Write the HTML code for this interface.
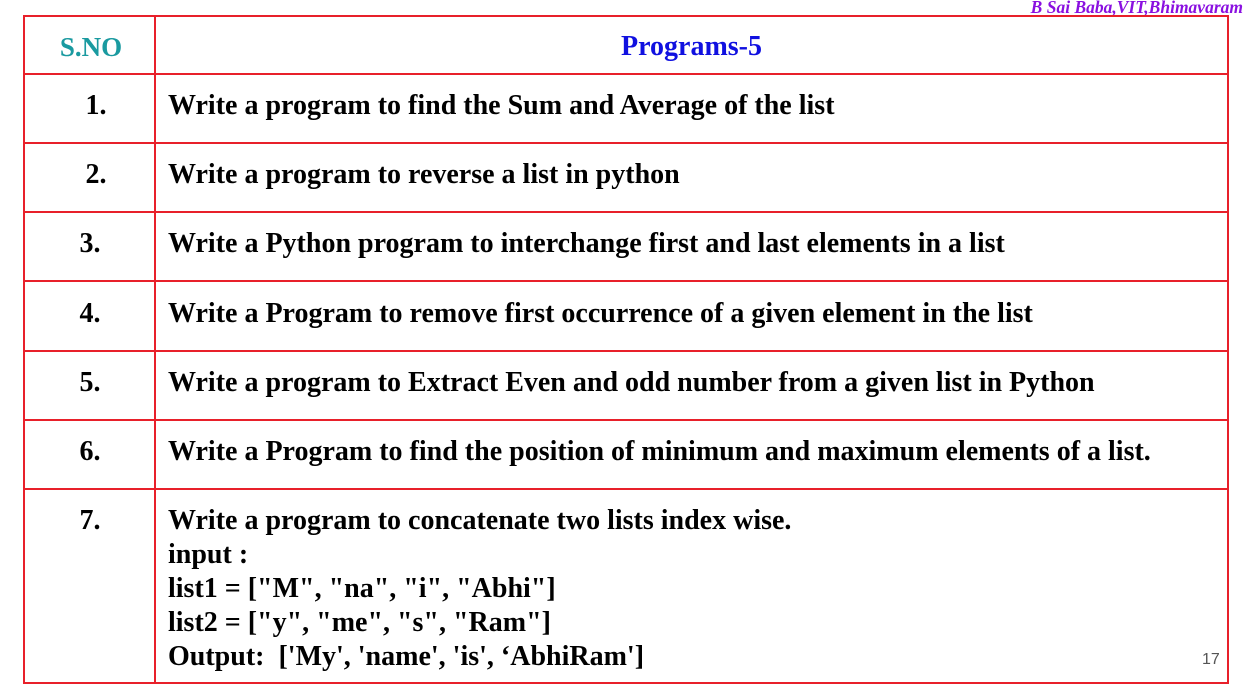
<!DOCTYPE html>
<html><head><meta charset="utf-8"><style>
body{margin:0;width:1249px;height:700px;background:#fff;position:relative;overflow:hidden;font-family:"Liberation Serif",serif;font-weight:bold}
.l{position:absolute;background:#e8202a}
.t{position:absolute;font-size:28px;color:#000;white-space:nowrap;line-height:34px;margin-top:1px}
.n{left:23px;width:132px;text-align:center}
.p{left:168px}
</style></head><body>
<div style="position:absolute;right:6px;top:-3px;font-size:17.5px;font-style:italic;color:#8a10e0">B Sai Baba,VIT,Bhimavaram</div>
<div>
<div class="l" style="left:23px;top:15px;width:1206px;height:2px"></div>
<div class="l" style="left:23px;top:73px;width:1206px;height:2px"></div>
<div class="l" style="left:23px;top:142px;width:1206px;height:2px"></div>
<div class="l" style="left:23px;top:211px;width:1206px;height:2px"></div>
<div class="l" style="left:23px;top:280px;width:1206px;height:2px"></div>
<div class="l" style="left:23px;top:350px;width:1206px;height:2px"></div>
<div class="l" style="left:23px;top:419px;width:1206px;height:2px"></div>
<div class="l" style="left:23px;top:488px;width:1206px;height:2px"></div>
<div class="l" style="left:23px;top:682px;width:1206px;height:2px"></div>
<div class="l" style="left:23px;top:15px;width:2px;height:669px"></div>
<div class="l" style="left:154px;top:15px;width:2px;height:669px"></div>
<div class="l" style="left:1227px;top:15px;width:2px;height:669px"></div>
</div>
<div class="t n" style="top:29px;color:#1a9aa0;font-size:27px;left:25px">S.NO</div>
<div class="t" style="left:155px;width:1073px;text-align:center;top:29px;color:#1010e0;font-size:28px">Programs-5</div>
<div class="t n" style="top:88px;left:30px">1.</div>
<div class="t p" style="top:88px">Write a program to find the Sum and Average of the list</div>
<div class="t n" style="top:157px;left:30px">2.</div>
<div class="t p" style="top:157px">Write a program to reverse a list in python</div>
<div class="t n" style="top:226px;left:24px">3.</div>
<div class="t p" style="top:226px">Write a Python program to interchange first and last elements in a list</div>
<div class="t n" style="top:296px;left:24px">4.</div>
<div class="t p" style="top:296px">Write a Program to remove first occurrence of a given element in the list</div>
<div class="t n" style="top:365px;left:24px">5.</div>
<div class="t p" style="top:365px">Write a program to Extract Even and odd number from a given list in Python</div>
<div class="t n" style="top:434px;left:24px">6.</div>
<div class="t p" style="top:434px">Write a Program to find the position of minimum and maximum elements of a list.</div>
<div class="t n" style="top:503px;left:24px">7.</div>
<div class="t p" style="top:503px">Write a program to concatenate two lists index wise.<br>input :<br>list1 = ["M", "na", "i", "Abhi"]<br>list2 = ["y", "me", "s", "Ram"]<br>Output:&nbsp; ['My', 'name', 'is', ‘AbhiRam']</div>
<div style="position:absolute;left:1202px;top:651px;font-family:'Liberation Sans',sans-serif;font-weight:normal;font-size:16px;color:#555">17</div>
</body></html>
